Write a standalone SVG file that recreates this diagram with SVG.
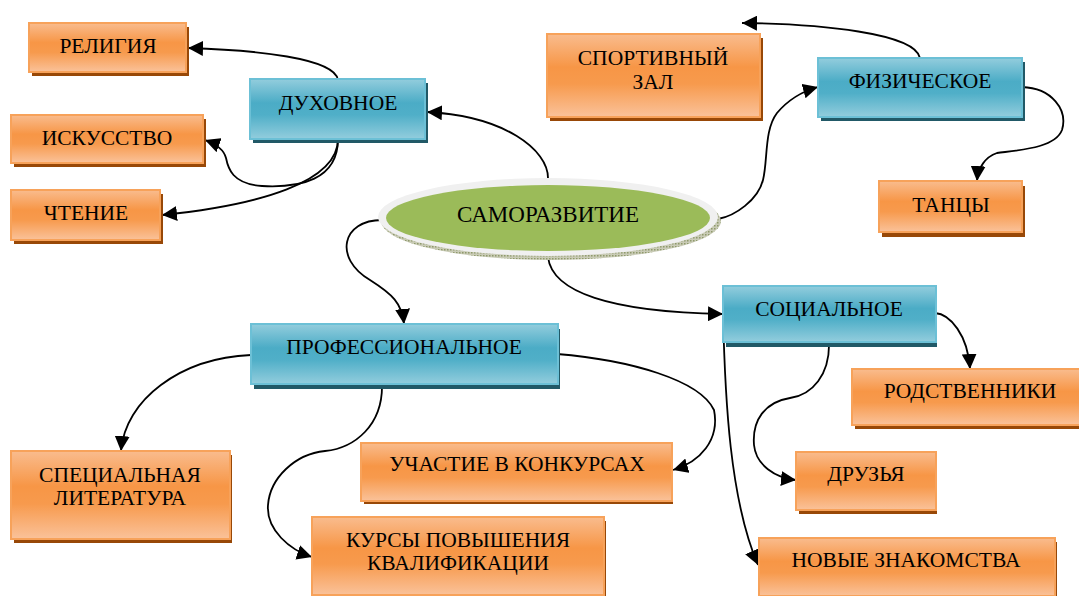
<svg xmlns="http://www.w3.org/2000/svg" width="1079" height="596" viewBox="0 0 1079 596">
<defs>
<linearGradient id="gO" x1="0" y1="0" x2="0" y2="1">
<stop offset="0" stop-color="#f9bc8e"/><stop offset="0.4" stop-color="#f79646"/><stop offset="0.6" stop-color="#f79a4d"/><stop offset="1" stop-color="#fac29a"/>
</linearGradient>
<linearGradient id="gB" x1="0" y1="0" x2="0" y2="1">
<stop offset="0" stop-color="#93cddd"/><stop offset="0.4" stop-color="#4bacc6"/><stop offset="0.6" stop-color="#50afc8"/><stop offset="1" stop-color="#93cddd"/>
</linearGradient>
<marker id="ah" markerUnits="userSpaceOnUse" markerWidth="15" markerHeight="15" refX="15" refY="7.5" orient="auto">
<path d="M0,0 L15,7.5 L0,15 z" fill="#000"/>
</marker>
<pattern id="dots" width="3" height="3" patternUnits="userSpaceOnUse">
<rect width="3" height="3" fill="#c9cbb6"/><rect width="1.5" height="1.5" fill="#8f9a6c"/>
</pattern>
</defs>
<style>
.o{fill:url(#gO);stroke:#f7a25a;stroke-width:2}
.os{fill:#984807}
.b{fill:url(#gB);stroke:#6cc0d6;stroke-width:2}
.bs{fill:#215967}
.t{font-family:"Liberation Serif","Times New Roman",serif;font-size:21.5px;fill:#000;text-anchor:middle}
.tc{font-size:23px}
.c{fill:none;stroke:#000;stroke-width:1.8;marker-end:url(#ah)}
</style>
<rect width="1079" height="596" fill="#fff"/>

<g id="connectors">
<path class="c" d="M548,178 C548,150 505,116 427,112"/>
<path class="c" d="M338,80 C335,58 255,50 188,48"/>
<path class="c" d="M338,139 C338,180 300,188 262,186 C232,184 228,168 226,158 C224,150 216,144 205,140"/>
<path class="c" d="M338,139 C338,182 260,205 162,215"/>
<path class="c" d="M382,220 C342,220 333,258 370,280 C392,294 402,303 404,324"/>
<path class="c" d="M251,355 C180,358 125,400 121,451"/>
<path class="c" d="M382,384 C383,425 355,448 325,451 C295,454 270,478 268,505 C266,530 290,550 312,557"/>
<path class="c" d="M557,354 C630,360 700,380 714,410 C720,440 700,462 673,470"/>
<path class="c" d="M548,257 C552,292 610,312 723,314"/>
<path class="c" d="M718,219 C735,216 758,200 763,180 C768,160 764,130 777,113 C788,100 800,92 818,87"/>
<path class="c" d="M920,58 C915,33 820,24 742,23"/>
<path class="c" d="M1022,87 C1052,88 1068,110 1062,130 C1055,148 1020,150 997,153 C985,157 978,168 977,181"/>
<path class="c" d="M935,313 C950,314 968,335 970,369"/>
<path class="c" d="M829,342 C830,375 812,395 790,398 C765,402 752,420 754,445 C756,465 775,478 796,480"/>
<path class="c" d="M723,313 C725,400 730,500 758,565"/>
</g>

<g id="n-center">
<ellipse cx="551" cy="221" rx="170" ry="39" fill="url(#dots)"/>
<ellipse cx="548" cy="217" rx="170" ry="39" fill="#f0f0f0"/>
<ellipse cx="548" cy="218" rx="162" ry="33" fill="#9bbb59"/>
<text class="t tc" x="548" y="222">САМОРАЗВИТИЕ</text>
</g>

<g id="n-duh">
<rect class="bs" x="253" y="83" width="175" height="60"/>
<rect class="b" x="250" y="79" width="175" height="60"/>
<text class="t" x="338" y="110">ДУХОВНОЕ</text>
</g>
<g id="n-relig">
<rect class="os" x="32" y="27" width="157" height="49"/>
<rect class="o" x="29" y="23" width="157" height="49"/>
<text class="t" x="108" y="53">РЕЛИГИЯ</text>
</g>
<g id="n-isk">
<rect class="os" x="14" y="119" width="192" height="48"/>
<rect class="o" x="11" y="115" width="192" height="48"/>
<text class="t" x="107" y="145">ИСКУССТВО</text>
</g>
<g id="n-chten">
<rect class="os" x="14" y="194" width="149" height="50"/>
<rect class="o" x="11" y="190" width="149" height="50"/>
<text class="t" x="86" y="220">ЧТЕНИЕ</text>
</g>

<g id="n-fiz">
<rect class="bs" x="821" y="62" width="204" height="59"/>
<rect class="b" x="818" y="58" width="204" height="59"/>
<text class="t" x="920" y="88">ФИЗИЧЕСКОЕ</text>
</g>
<g id="n-sport">
<rect class="os" x="550" y="38" width="213" height="83"/>
<rect class="o" x="547" y="34" width="213" height="83"/>
<text class="t" x="653" y="65">СПОРТИВНЫЙ</text>
<text class="t" x="653" y="89">ЗАЛ</text>
</g>
<g id="n-tanc">
<rect class="os" x="882" y="186" width="143" height="51"/>
<rect class="o" x="879" y="181" width="143" height="51"/>
<text class="t" x="951" y="212">ТАНЦЫ</text>
</g>

<g id="n-prof">
<rect class="bs" x="254" y="329" width="306" height="60"/>
<rect class="b" x="251" y="324" width="307" height="60"/>
<text class="t" x="404" y="354">ПРОФЕССИОНАЛЬНОЕ</text>
</g>
<g id="n-spec">
<rect class="os" x="14" y="455" width="218" height="88"/>
<rect class="o" x="11" y="451" width="219" height="88"/>
<text class="t" x="120" y="482">СПЕЦИАЛЬНАЯ</text>
<text class="t" x="120" y="505">ЛИТЕРАТУРА</text>
</g>
<g id="n-uch">
<rect class="os" x="364" y="446" width="309" height="58"/>
<rect class="o" x="361" y="443" width="311" height="58"/>
<text class="t" x="517" y="471">УЧАСТИЕ В КОНКУРСАХ</text>
</g>
<g id="n-kurs">
<rect class="os" x="315" y="521" width="291" height="80"/>
<rect class="o" x="312" y="517" width="292" height="78"/>
<text class="t" x="458" y="547">КУРСЫ ПОВЫШЕНИЯ</text>
<text class="t" x="458" y="570">КВАЛИФИКАЦИИ</text>
</g>

<g id="n-soc">
<rect class="bs" x="726" y="291" width="211" height="56"/>
<rect class="b" x="723" y="286" width="213" height="56"/>
<text class="t" x="829" y="316">СОЦИАЛЬНОЕ</text>
</g>
<g id="n-rod">
<rect class="os" x="855" y="373" width="234" height="56"/>
<rect class="o" x="852" y="369" width="234" height="56"/>
<text class="t" x="970" y="398">РОДСТВЕННИКИ</text>
</g>
<g id="n-druz">
<rect class="os" x="799" y="456" width="138" height="58"/>
<rect class="o" x="796" y="452" width="140" height="58"/>
<text class="t" x="866" y="481">ДРУЗЬЯ</text>
</g>
<g id="n-novye">
<rect class="os" x="762" y="542" width="295" height="60"/>
<rect class="o" x="759" y="538" width="296" height="58"/>
<text class="t" x="906" y="567">НОВЫЕ ЗНАКОМСТВА</text>
</g>
</svg>
